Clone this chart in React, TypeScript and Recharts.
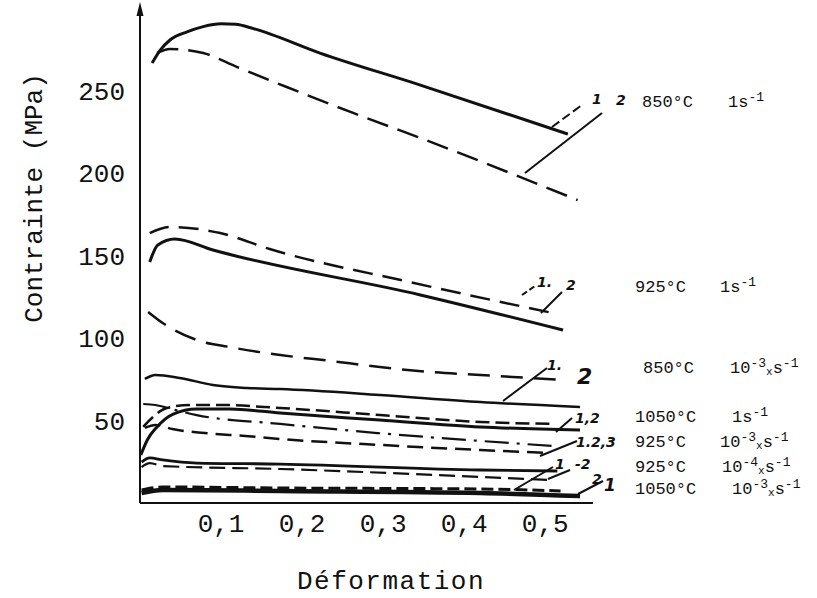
import { LineChart, Line, XAxis, YAxis } from "recharts";

// strain ticks / stress ticks
const strainTicks = [0.1, 0.2, 0.3, 0.4, 0.5];
const stressTicks = [50, 100, 150, 200, 250];

// [strain, stress MPa] pairs, one array per curve
const c850Fast1 = [[0.015, 266.7], [0.025, 274.5], [0.037, 280.6], [0.058, 285.5], [0.078, 288.7], [0.1, 290.4], [0.118, 290.1], [0.14, 287.5], [0.222, 272.7], [0.346, 253.3], [0.528, 223.6]];
const c850Fast2 = [[0.021, 272.7], [0.037, 275.2], [0.078, 272.7], [0.12, 264.2], [0.181, 252.1], [0.263, 236.4], [0.346, 221.2], [0.54, 183.6]];
const c925Fast1 = [[0.012, 146.1], [0.022, 156.4], [0.043, 160], [0.09, 153.3], [0.346, 126.1], [0.522, 104.8]];
const c925Fast2 = [[0.012, 163.6], [0.037, 167.3], [0.099, 163.6], [0.16, 153.9], [0.333, 133.9], [0.509, 115.2]];
const c850Slow1 = [[0.006, 75.2], [0.019, 77.6], [0.049, 75.8], [0.09, 71.5], [0.132, 69.7], [0.173, 69.1], [0.296, 65.5], [0.42, 61.2], [0.543, 58.2]];
const c850Slow2 = [[0.01, 115.8], [0.028, 109.1], [0.07, 98.8], [0.111, 94.5], [0.173, 89.7], [0.235, 86.1], [0.296, 82.4], [0.358, 79.4], [0.42, 77.6], [0.522, 74.5]];
const c1050Fast1 = [[0.004, 46.1], [0.016, 52.1], [0.033, 57.6], [0.062, 59.4], [0.099, 59.4], [0.173, 57.6], [0.296, 53.3], [0.42, 49.1], [0.512, 47.9]];
const c1050Fast2 = [[0.001, 29.1], [0.009, 38.2], [0.021, 46.1], [0.041, 53.9], [0.07, 57], [0.111, 57], [0.173, 54.5], [0.296, 50.3], [0.42, 46.1], [0.543, 44.2]];
const c925Slow1 = [[0.004, 60], [0.019, 59.4], [0.043, 56.4], [0.07, 53.3], [0.173, 47.9], [0.293, 42.4], [0.42, 37.6], [0.512, 34.5]];
const c925Slow2 = [[0.006, 45.5], [0.019, 47.3], [0.04, 44.8], [0.08, 42.4], [0.13, 40.6], [0.173, 38.8], [0.296, 35.2], [0.42, 32.1], [0.506, 30.3]];
const c925Slower1 = [[0.002, 24.8], [0.012, 27.3], [0.028, 26.1], [0.07, 24.2], [0.173, 23.6], [0.42, 20], [0.515, 19.4]];
const c925Slower2 = [[0.002, 21.8], [0.012, 24.2], [0.028, 22.4], [0.173, 20.6], [0.42, 15.8], [0.509, 13.9]];
const c1050Slow1 = [[0.002, 6.1], [0.028, 7.9], [0.173, 7.3], [0.42, 6.1], [0.543, 4.2]];
const c1050Slow2 = [[0.002, 7.9], [0.028, 9.7], [0.173, 9.1], [0.42, 8.5], [0.519, 7.3]];

// test conditions, top to bottom; null exponent means 1 s-1
const temps = ["850°C", "925°C", "850°C", "1050°C", "925°C", "925°C", "1050°C"];
const rateExps = [null, null, "-3", null, "-3", "-4", "-3"];

const curves = [
  { pts: c850Fast1, w: 3 },
  { pts: c850Fast2, w: 2.5, dash: "22 10" },
  { pts: c925Fast1, w: 3 },
  { pts: c925Fast2, w: 2.5, dash: "20 10" },
  { pts: c850Slow1, w: 2.5 },
  { pts: c850Slow2, w: 2.5, dash: "22 11" },
  { pts: c1050Fast1, w: 2.5, dash: "14 6" },
  { pts: c1050Fast2, w: 3 },
  { pts: c925Slow1, w: 2.2, dash: "24 8 3 8" },
  { pts: c925Slow2, w: 2.5, dash: "16 8" },
  { pts: c925Slower1, w: 2.8 },
  { pts: c925Slower2, w: 2.2, dash: "16 7" },
  { pts: c1050Slow1, w: 4.5 },
  { pts: c1050Slow2, w: 3, dash: "12 5" },
];

// right-hand condition labels (baseline y, temperature x, rate x)
const labelRows = [
  { y: 107, x1: 642, x2: 728 },
  { y: 292, x1: 635, x2: 720 },
  { y: 373, x1: 643, x2: 730 },
  { y: 422, x1: 635, x2: 732 },
  { y: 447, x1: 635, x2: 720 },
  { y: 472, x1: 635, x2: 722 },
  { y: 494, x1: 635, x2: 732 },
];

// hand-drawn leaders and curve numbers
const leaders = [
  { x1: 552, y1: 127, x2: 582, y2: 105, dash: "9 4" },
  { x1: 525, y1: 173, x2: 602, y2: 113 },
  { x1: 522, y1: 295, x2: 535, y2: 286, dash: "6 3" },
  { x1: 541, y1: 313, x2: 562, y2: 292 },
  { x1: 503, y1: 401, x2: 547, y2: 368 },
  { x1: 556, y1: 432, x2: 572, y2: 418 },
  { x1: 540, y1: 456, x2: 577, y2: 441 },
  { x1: 514, y1: 490, x2: 553, y2: 467 },
  { x1: 548, y1: 479, x2: 570, y2: 470 },
  { x1: 578, y1: 494, x2: 603, y2: 481 },
];
const tags = [
  { t: "1", x: 592, y: 104 },
  { t: "2", x: 616, y: 105 },
  { t: "1.", x: 537, y: 287 },
  { t: "2", x: 566, y: 290 },
  { t: "1.", x: 547, y: 370 },
  { t: "2", x: 577, y: 384, s: 22 },
  { t: "1,2", x: 575, y: 423 },
  { t: "1.2,3", x: 576, y: 447 },
  { t: "1", x: 555, y: 469 },
  { t: "-2", x: 575, y: 469 },
  { t: "2", x: 592, y: 484 },
  { t: "1", x: 604, y: 491, s: 17 },
];

const ink = "#111";
const mono = "'Liberation Mono', 'DejaVu Sans Mono', monospace";

const toRows = (pts: number[][]) => pts.map(([x, y]) => ({ strain: x, stress: y }));

function Rate({ x, y, exp }: { x: number; y: number; exp: string | null }) {
  if (!exp) {
    return (
      <text x={x} y={y} fontSize={17} fontFamily={mono} fill={ink}>
        1s<tspan dy={-6} fontSize={13}>-1</tspan>
      </text>
    );
  }
  return (
    <text x={x} y={y} fontSize={17} fontFamily={mono} fill={ink}>
      10<tspan dy={-6} fontSize={13}>{exp}</tspan>
      <tspan dy={8} fontSize={11}>x</tspan>
      <tspan dy={-2} fontSize={17}>s</tspan>
      <tspan dy={-6} fontSize={13}>-1</tspan>
    </text>
  );
}

export default function App() {
  return (
    <div style={{ position: "absolute", left: 0, top: 0, width: 817, height: 598, background: "#fff" }}>
      <LineChart width={817} height={598} margin={{ top: 8, right: 224, bottom: 55, left: 80 }}>
        <XAxis
          dataKey="strain"
          type="number"
          domain={[0, 0.559]}
          ticks={strainTicks}
          tickFormatter={(v: number) => v.toFixed(1).replace(".", ",")}
          tickLine={false}
          tickMargin={5}
          height={40}
          axisLine={{ stroke: ink, strokeWidth: 2 }}
          tick={{ fill: ink, fontSize: 26, fontFamily: mono }}
          allowDataOverflow
        />
        <YAxis
          type="number"
          domain={[0, 300]}
          ticks={stressTicks}
          tickLine={false}
          tickMargin={9}
          width={60}
          axisLine={{ stroke: ink, strokeWidth: 2 }}
          tick={{ fill: ink, fontSize: 26, fontFamily: mono }}
          allowDataOverflow
        />
        {curves.map((c, i) => (
          <Line
            key={i}
            data={toRows(c.pts)}
            dataKey="stress"
            type="monotone"
            stroke={ink}
            strokeWidth={c.w}
            strokeDasharray={c.dash}
            dot={false}
            activeDot={false}
            isAnimationActive={false}
          />
        ))}
      </LineChart>
      <svg width={817} height={598} style={{ position: "absolute", left: 0, top: 0, pointerEvents: "none" }}>
        <polygon points="140,2 136.5,16 143.5,16" fill={ink} />
        <text
          transform="translate(42,198) rotate(-90)"
          textAnchor="middle"
          fontSize={26}
          fontFamily={mono}
          fill={ink}
        >
          Contrainte (MPa)
        </text>
        <text x={391} y={589} textAnchor="middle" fontSize={26} letterSpacing={1.5} fontFamily={mono} fill={ink}>
          Déformation
        </text>
        {leaders.map((l, i) => (
          <line key={i} x1={l.x1} y1={l.y1} x2={l.x2} y2={l.y2} stroke={ink} strokeWidth={2} strokeDasharray={l.dash} />
        ))}
        {tags.map((g, i) => (
          <text key={i} x={g.x} y={g.y} fontSize={g.s ?? 14} fontStyle="italic" fontWeight="bold" fontFamily="'DejaVu Sans', sans-serif" fill={ink}>
            {g.t}
          </text>
        ))}
        {labelRows.map((r, i) => (
          <g key={i}>
            <text x={r.x1} y={r.y} fontSize={17} fontFamily={mono} fill={ink}>
              {temps[i]}
            </text>
            <Rate x={r.x2} y={r.y} exp={rateExps[i]} />
          </g>
        ))}
      </svg>
    </div>
  );
}
